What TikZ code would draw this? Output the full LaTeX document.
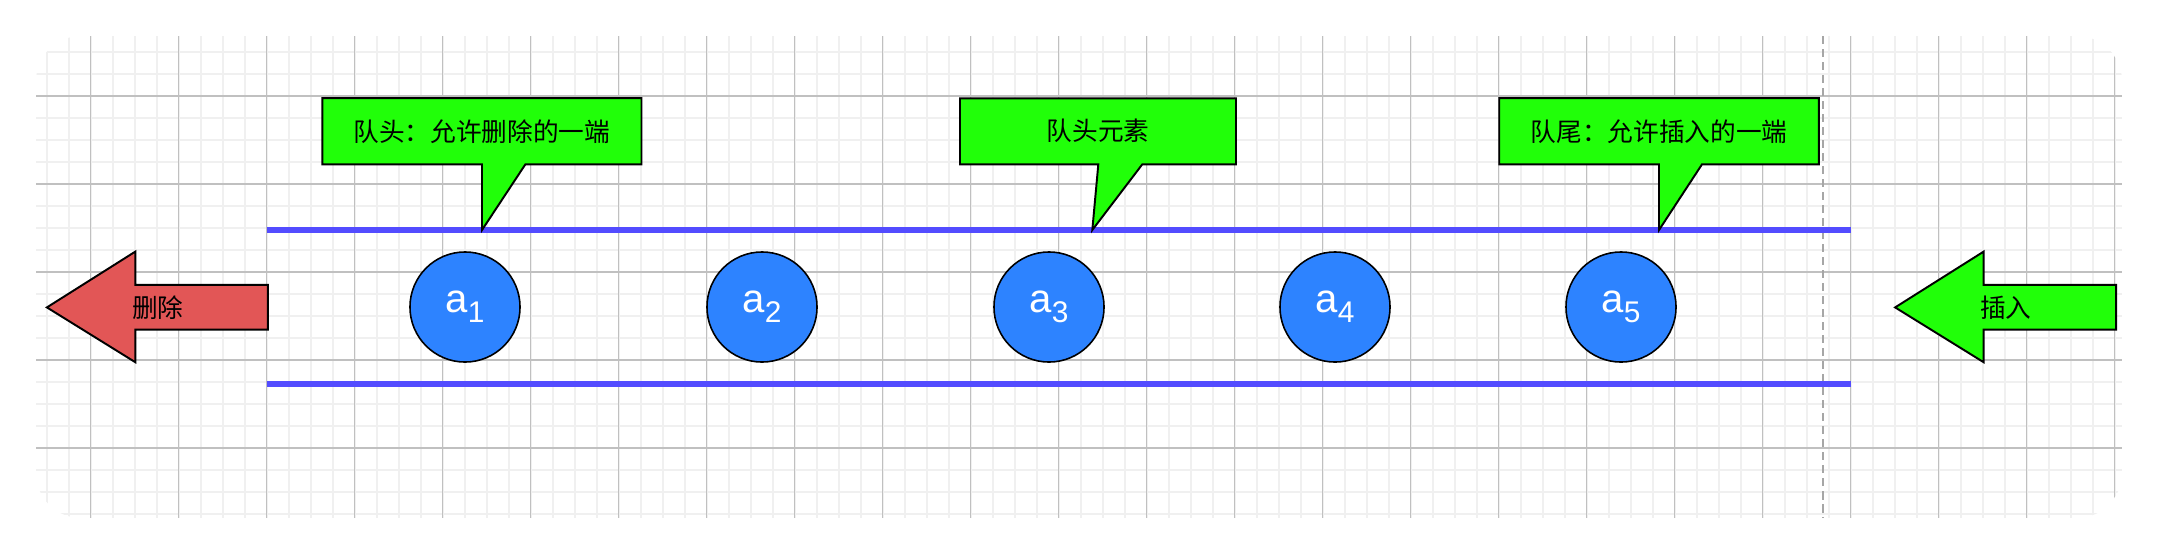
\documentclass[tikz,border=0pt]{standalone}
\usepackage{fontspec}
\setmainfont{Liberation Sans}
\newfontfamily\cjk{Noto Sans CJK SC}
\usepackage{tikz}

\definecolor{gridmajor}{RGB}{192,192,192}
\definecolor{gridminor}{RGB}{240,240,240}
\definecolor{railblue}{RGB}{83,76,255}
\definecolor{elemblue}{RGB}{45,131,255}
\definecolor{notegreen}{RGB}{33,255,9}
\definecolor{delred}{RGB}{226,86,86}

\newcommand{\lowsub}[1]{\raisebox{-2.8pt}{\fontsize{8.5}{8.5}\selectfont #1}}

\begin{document}
\begin{tikzpicture}[x=0.01cm,y=-0.01cm,
	elem/.style={shape=circle,draw=black,line width=0.45pt,fill=elemblue,text=white,minimum size=1.1cm,inner sep=0pt,font=\fontsize{11.4}{12}\selectfont},
	note/.style={draw=black,line width=0.55pt,fill=notegreen},
	notetext/.style={font=\cjk\fontsize{7.3}{8}\selectfont,inner sep=0pt},
	rail/.style={draw=railblue,line width=1.7pt}]
	\useasboundingbox (0,0) rectangle (2158,554);
	% grid
	\begin{scope}
	\clip[rounded corners=0.45cm] (36,36) rectangle (2122,518);
	\foreach \i in {0,...,94} \draw[gridminor,line width=0.55pt] ({46.6+22*\i},36) -- ++(0,482);
	\foreach \j in {0,...,21} \draw[gridminor,line width=0.55pt] (36,{52+22*\j}) -- ++(2086,0);
	\foreach \i in {0,...,23} \draw[gridmajor,line width=0.3pt] ({90.6+88*\i},36) -- ++(0,482);
	\foreach \j in {0,...,4} \draw[gridmajor,line width=0.3pt] (36,{96+88*\j}) -- ++(2086,0);
	\end{scope}
	\coordinate (edgetop) at (1823,36);
	\coordinate (edgebot) at (1823,518);
	\path[draw=gray!70,line width=0.35pt,dash pattern=on 2.3pt off 1.4pt] (edgetop) -- (edgebot);
	% queue rails
	\coordinate (topL) at (266.5,230);
	\coordinate (topR) at (1851,230);
	\coordinate (botL) at (266.5,384);
	\coordinate (botR) at (1851,384);
	\path[rail] (topL) -- (topR);
	\path[rail] (botL) -- (botR);
	% elements
	\node[elem] (a1) at (465,307)  {a\lowsub{1}};
	\node[elem] (a2) at (762,307)  {a\lowsub{2}};
	\node[elem] (a3) at (1049,307) {a\lowsub{3}};
	\node[elem] (a4) at (1335,307) {a\lowsub{4}};
	\node[elem] (a5) at (1621,307) {a\lowsub{5}};
	% callouts
	\draw[note] (322.3,98.2) -- (641.5,98.2) -- (641.5,164.3) -- (525.4,164.3) -- (482,230) -- (482,164.3) -- (322.3,164.3) -- cycle;
	\node[notetext] (front) at (481.9,131.2) {队头：允许删除的一端};
	\draw[note] (960,98.3) -- (1236,98.3) -- (1236,164.3) -- (1142.3,164.3) -- (1092.3,230) -- (1098.3,164.3) -- (960,164.3) -- cycle;
	\node[notetext] (head) at (1098,131.2) {队头元素};
	\draw[note] (1499.2,98.2) -- (1818.9,98.2) -- (1818.9,164.3) -- (1702,164.3) -- (1659,230) -- (1659,164.3) -- (1499.2,164.3) -- cycle;
	\node[notetext] (rear) at (1659,131.2) {队尾：允许插入的一端};
	% big arrows
	\draw[line width=0.55pt,fill=delred] (46.9,307.4) -- (135.3,251.6) -- (135.3,284.8) -- (267.9,284.8) -- (267.9,329.7) -- (135.3,329.7) -- (135.3,362.2) -- cycle;
	\node[notetext] (del) at (157.8,307.4) {删除};
	\draw[line width=0.55pt,fill=notegreen] (1895.1,307.4) -- (1983.6,251.6) -- (1983.6,284.8) -- (2116,284.8) -- (2116,329.7) -- (1983.6,329.7) -- (1983.6,362.2) -- cycle;
	\node[notetext] (ins) at (2005.8,307.4) {插入};
\end{tikzpicture}
\end{document}
